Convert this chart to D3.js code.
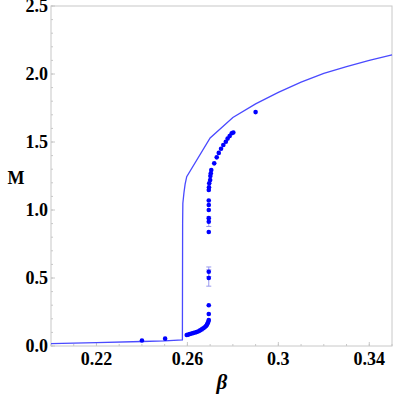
<!DOCTYPE html>
<html>
<head>
<meta charset="utf-8">
<script src="https://cdn.jsdelivr.net/npm/d3@7"></script>
<style>
body { margin: 0; background: #fff; }
text { font-family: "Liberation Serif", "Times New Roman", serif; }
</style>
</head>
<body>
<script>
// curve (solid line)
var lineBeta = [0.20, 0.22, 0.24, 0.25, 0.2578, 0.2579, 0.2580, 0.2585, 0.2590, 0.2597, 0.27, 0.28, 0.29, 0.30, 0.31, 0.32, 0.33, 0.34, 0.35];
var lineM    = [0.018, 0.025, 0.033, 0.038, 0.045, 0.90, 1.05, 1.13, 1.19, 1.245, 1.53, 1.68, 1.78, 1.865, 1.94, 2.005, 2.055, 2.10, 2.14];

// simulation points
var ptBeta = [0.24, 0.2502,
              0.2597, 0.2604, 0.2611, 0.2619, 0.2626, 0.2634, 0.2641, 0.2649, 0.2656, 0.2663, 0.2670, 0.2676, 0.2682, 0.2686, 0.2689, 0.2692, 0.2694,
              0.2694, 0.2694, 0.2694, 0.2694, 0.2694, 0.2694, 0.2694, 0.2694, 0.2694, 0.2694, 0.2694,
              0.2695, 0.2696, 0.2700, 0.2701, 0.2703, 0.2705,
              0.2718, 0.2729, 0.2738, 0.2748, 0.2758, 0.2769, 0.2777, 0.2786, 0.2795, 0.2802,
              0.29];
var ptM    = [0.04, 0.054,
              0.081, 0.084, 0.088, 0.092, 0.096, 0.099, 0.103, 0.109, 0.115, 0.122, 0.130, 0.138, 0.147, 0.157, 0.167, 0.178, 0.191,
              0.235, 0.30, 0.50, 0.546, 0.838, 0.914, 0.94, 1.0, 1.037, 1.07, 1.147,
              1.167, 1.196, 1.22, 1.25, 1.27, 1.294,
              1.343, 1.387, 1.42, 1.45, 1.478, 1.502, 1.525, 1.544, 1.564, 1.57,
              1.72];
var ptErr  = [0, 0,
              0, 0, 0, 0, 0, 0, 0, 0, 0, 0, 0, 0, 0, 0, 0, 0, 0,
              0, 0, 0.06, 0.035, 0, 0.035, 0, 0, 0, 0, 0,
              0, 0, 0, 0, 0, 0,
              0, 0, 0, 0, 0, 0, 0, 0, 0, 0,
              0];

var xTicks = [0.22, 0.26, 0.30, 0.34];
var xTickLabels = ["0.22", "0.26", "0.3", "0.34"];
var yTicks = [0, 0.5, 1.0, 1.5, 2.0, 2.5];

var W = 399, H = 399;
var svg = d3.select('body').append('svg')
                .attr('width', W)
                .attr('height', H);

var x = d3.scaleLinear().domain([0.2, 0.35]).range([51, 392]);
var y = d3.scaleLinear().domain([0, 2.5]).range([346, 6]);

var frame = '#c8c8c8';

// frame
svg.append('rect')
    .attr('x', x(0.2)).attr('y', y(2.5))
    .attr('width', x(0.35) - x(0.2))
    .attr('height', y(0) - y(2.5))
    .attr('fill', 'none')
    .attr('stroke', frame)
    .attr('stroke-width', 1);

// minor ticks
var xMinor = d3.range(0.2, 0.3501, 0.01);
svg.selectAll('.xminor').data(xMinor).enter().append('line')
    .attr('x1', function(d){ return x(d); }).attr('x2', function(d){ return x(d); })
    .attr('y1', y(0)).attr('y2', y(0) - 2)
    .attr('stroke', frame);
var yMinor = d3.range(0, 2.501, 0.1);
svg.selectAll('.yminor').data(yMinor).enter().append('line')
    .attr('x1', x(0.2)).attr('x2', x(0.2) + 2)
    .attr('y1', function(d){ return y(d); }).attr('y2', function(d){ return y(d); })
    .attr('stroke', frame);
svg.selectAll('.xmajor').data(xTicks).enter().append('line')
    .attr('x1', function(d){ return x(d); }).attr('x2', function(d){ return x(d); })
    .attr('y1', y(0)).attr('y2', y(0) - 4)
    .attr('stroke', frame);
svg.selectAll('.ymajor').data(yTicks).enter().append('line')
    .attr('x1', x(0.2)).attr('x2', x(0.2) + 4)
    .attr('y1', function(d){ return y(d); }).attr('y2', function(d){ return y(d); })
    .attr('stroke', frame);

// tick labels
svg.selectAll('.xlab').data(xTicks).enter().append('text')
    .attr('x', function(d){ return x(d); })
    .attr('y', 365)
    .attr('text-anchor', 'middle')
    .attr('font-size', 18)
    .attr('font-weight', 'bold')
    .text(function(d, i){ return xTickLabels[i]; });
svg.selectAll('.ylab').data(yTicks).enter().append('text')
    .attr('x', 48)
    .attr('y', function(d){ return y(d); })
    .attr('dy', '0.35em')
    .attr('text-anchor', 'end')
    .attr('font-size', 18)
    .attr('font-weight', 'bold')
    .text(function(d){ return d3.format('.1f')(d); });

// axis titles
svg.append('text').attr('x', 16).attr('y', 184)
    .attr('text-anchor', 'middle').attr('font-size', 18).attr('font-weight', 'bold')
    .text('M');
svg.append('text').attr('x', 222).attr('y', 389)
    .attr('text-anchor', 'middle').attr('font-size', 21).attr('font-weight', 'bold')
    .attr('font-style', 'italic')
    .text('β');

// solid curve
var lineData = lineBeta.map(function(b, i){ return [b, lineM[i]]; });
svg.append('path')
    .datum(lineData)
    .attr('d', d3.line().x(function(d){ return x(d[0]); }).y(function(d){ return y(d[1]); }))
    .attr('fill', 'none')
    .attr('stroke', '#4a4aff')
    .attr('stroke-width', 1.3);

// points with error bars
var pts = ptBeta.map(function(b, i){ return {b: b, m: ptM[i], e: ptErr[i]}; });
var eb = pts.filter(function(d){ return d.e > 0; });
svg.selectAll('.err').data(eb).enter().append('line')
    .attr('x1', function(d){ return x(d.b); }).attr('x2', function(d){ return x(d.b); })
    .attr('y1', function(d){ return y(d.m - d.e); }).attr('y2', function(d){ return y(d.m + d.e); })
    .attr('stroke', '#9999ee');
svg.selectAll('.capl').data(eb.concat(eb)).enter().append('line')
    .attr('x1', function(d){ return x(d.b) - 2.5; }).attr('x2', function(d){ return x(d.b) + 2.5; })
    .attr('y1', function(d, i){ return i < eb.length ? y(d.m - d.e) : y(d.m + d.e); })
    .attr('y2', function(d, i){ return i < eb.length ? y(d.m - d.e) : y(d.m + d.e); })
    .attr('stroke', '#9999ee');
svg.selectAll('.pt').data(pts).enter().append('circle')
    .attr('cx', function(d){ return x(d.b); })
    .attr('cy', function(d){ return y(d.m); })
    .attr('r', 2.3)
    .attr('fill', '#0000ff');
</script>
</body>
</html>
